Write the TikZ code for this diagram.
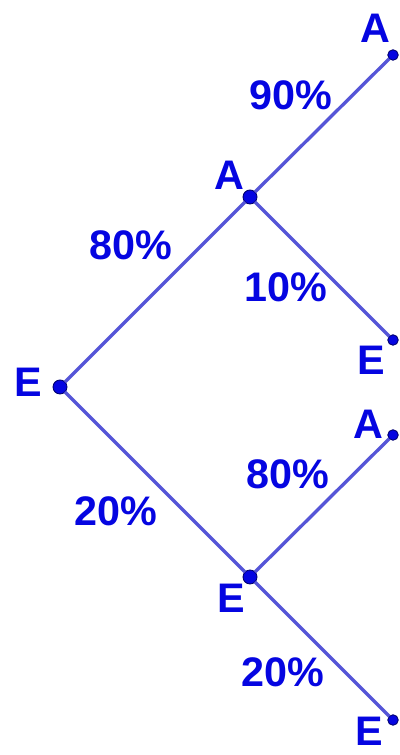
\documentclass[tikz,border=0pt]{standalone}
\usepackage{fontspec}
\setmainfont{Liberation Sans}
\usepackage{tikz}
\usetikzlibrary{positioning}
\definecolor{treeblue}{RGB}{5,5,225}
\definecolor{branchblue}{RGB}{85,85,215}
\definecolor{dotline}{RGB}{0,0,110}

\begin{document}
\begin{tikzpicture}[
    pt/.style={circle, fill=treeblue, draw=dotline, line width=0.5pt,
        minimum size=0.28cm, inner sep=0pt, outer sep=0pt},
    leaf/.style={pt, minimum size=0.21cm},
    lbl/.style={font=\bfseries\fontsize{23.5}{25}\selectfont, text=treeblue, inner sep=0pt},
    branch/.style={line width=1.9pt, branchblue}
]
    \useasboundingbox (0,0) rectangle (8,15.1);

    % tree points
    \node[pt] (root) at (1.2,7.36) {};
    \node[pt] (a) at (5.0,11.16) {};
    \node[pt] (e) at (5.0,3.56) {};
    \node[leaf] (aa) at (7.86,14.0) {};
    \node[leaf] (ae) at (7.86,8.3) {};
    \node[leaf] (ea) at (7.86,6.4) {};
    \node[leaf] (ee) at (7.86,0.7) {};

    % branches
    \draw[branch] (root) -- (a);
    \draw[branch] (root) -- (e);
    \draw[branch] (a) -- (aa);
    \draw[branch] (a) -- (ae);
    \draw[branch] (e) -- (ea);
    \draw[branch] (e) -- (ee);

    % outcomes
    \node[lbl] (lroot) at (0.56,7.46) {E};
    \node[lbl] (la) at (4.58,11.6) {A};
    \node[lbl] (le) at (4.62,3.14) {E};
    \node[lbl] (laa) at (7.5,14.54) {A};
    \node[lbl] (lae) at (7.42,7.9) {E};
    \node[lbl] (lea) at (7.36,6.62) {A};
    \node[lbl] (lee) at (7.38,0.48) {E};

    % probabilities
    \node[lbl] (pa) at (2.62,10.2) {80\%};
    \node[lbl] (pe) at (2.32,4.88) {20\%};
    \node[lbl] (paa) at (5.82,13.2) {90\%};
    \node[lbl] (pae) at (5.72,9.36) {10\%};
    \node[lbl] (pea) at (5.76,5.62) {80\%};
    \node[lbl] (pee) at (5.66,1.66) {20\%};
\end{tikzpicture}
\end{document}
